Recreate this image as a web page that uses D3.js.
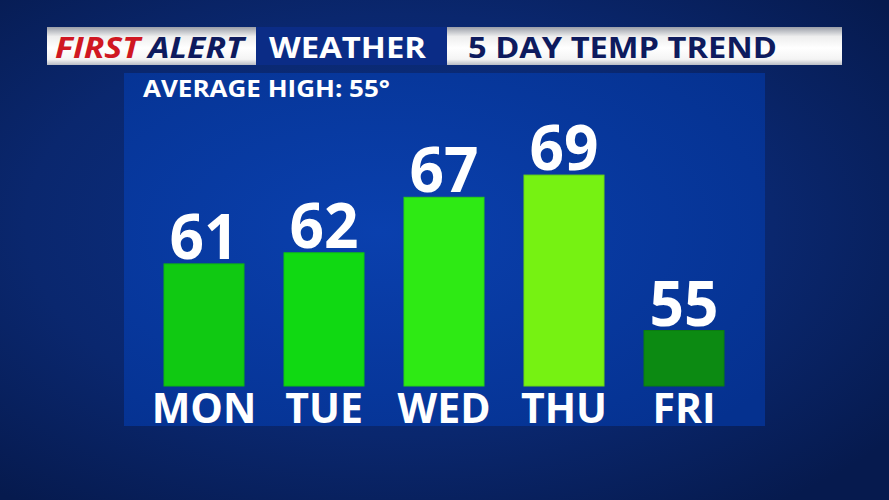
<!DOCTYPE html>
<html><head><meta charset="utf-8">
<script src="https://cdn.jsdelivr.net/npm/d3@7"></script>
<style>html,body{margin:0;padding:0;background:#071f5c;overflow:hidden}svg{display:block}</style>
</head><body>
<script>
const days = ["MON", "TUE", "WED", "THU", "FRI"];
const highs = [61, 62, 67, 69, 55];
const barColors = ["#10c912", "#10d912", "#2eea14", "#76f212", "#0c8a12"];
const averageHigh = 55;
const titleLeft = ["FIRST", "ALERT"];
const titleMid = "WEATHER";
const titleRight = "5 DAY TEMP TREND";

const W = 889, H = 500;
const svg = d3.select("body").append("svg").attr("width", W).attr("height", H);
const defs = svg.append("defs");
const font = "'Open Sans', 'DejaVu Sans', sans-serif";

// background
const bg = defs.append("radialGradient").attr("id", "bg").attr("cx", "45%").attr("cy", "45%").attr("r", "70%");
bg.append("stop").attr("offset", "0%").attr("stop-color", "#0c3288");
bg.append("stop").attr("offset", "60%").attr("stop-color", "#0a276e");
bg.append("stop").attr("offset", "100%").attr("stop-color", "#061a4e");
svg.append("rect").attr("width", W).attr("height", H).attr("fill", "url(#bg)");

// header
const wg = defs.append("linearGradient").attr("id", "wg").attr("x1", 0).attr("x2", 0).attr("y1", 0).attr("y2", 1);
wg.append("stop").attr("offset", "0%").attr("stop-color", "#9a9ea8");
wg.append("stop").attr("offset", "25%").attr("stop-color", "#eeeeee");
wg.append("stop").attr("offset", "55%").attr("stop-color", "#ffffff");
wg.append("stop").attr("offset", "85%").attr("stop-color", "#f4f4f4");
wg.append("stop").attr("offset", "100%").attr("stop-color", "#b8bcc4");
svg.append("rect").attr("x", 47).attr("y", 27).attr("width", 795).attr("height", 38).attr("fill", "url(#wg)");
svg.append("rect").attr("x", 256).attr("y", 27).attr("width", 191).attr("height", 38).attr("fill", "#0b2c86");

const hdrY = 58;
const fa = svg.append("text").attr("x", 55).attr("y", hdrY).attr("font-family", font).attr("font-weight", 700)
  .attr("font-style", "italic").attr("font-size", 29);
fa.append("tspan").attr("fill", "#d01722").text(titleLeft[0]);
fa.append("tspan").attr("fill", "#0e1b5e").attr("dx", 7).text(titleLeft[1]);
fa.attr("textLength", 189).attr("lengthAdjust", "spacingAndGlyphs");
svg.append("text").attr("x", 269).attr("y", hdrY).attr("font-family", font).attr("font-weight", 700)
  .attr("font-size", 29).attr("fill", "#ffffff").attr("textLength", 157).attr("lengthAdjust", "spacingAndGlyphs").text(titleMid);
svg.append("text").attr("x", 468).attr("y", hdrY).attr("font-family", font).attr("font-weight", 700)
  .attr("font-size", 29).attr("fill", "#0e1b5e").attr("textLength", 309).attr("lengthAdjust", "spacingAndGlyphs").text(titleRight);

// panel
const pg = defs.append("radialGradient").attr("id", "pg").attr("cx", "40%").attr("cy", "45%").attr("r", "75%");
pg.append("stop").attr("offset", "0%").attr("stop-color", "#0a40ae");
pg.append("stop").attr("offset", "100%").attr("stop-color", "#05318f");
svg.append("rect").attr("x", 124).attr("y", 73).attr("width", 641).attr("height", 353).attr("fill", "url(#pg)");

svg.append("text").attr("x", 143).attr("y", 97).attr("font-family", font).attr("font-weight", 700)
  .attr("font-size", 23.5).attr("fill", "#ffffff").attr("textLength", 247).attr("lengthAdjust", "spacingAndGlyphs")
  .text(`AVERAGE HIGH: ${averageHigh}°`);

// scales
const x = d3.scaleBand().domain(days).range([144, 744]).paddingInner(1/3).paddingOuter(1/6);
const y = d3.scaleLinear().domain([50, 70]).range([386, 164]);

const data = days.map((d, i) => ({day: d, v: highs[i], c: barColors[i]}));

svg.selectAll("rect.bar").data(data).join("rect").attr("class", "bar")
  .attr("x", d => x(d.day)).attr("y", d => y(d.v))
  .attr("width", x.bandwidth()).attr("height", d => y(50) - y(d.v))
  .attr("fill", d => d.c).attr("stroke", d => d3.color(d.c).darker(0.3)).attr("stroke-width", 1);

svg.selectAll("text.val").data(data).join("text").attr("class", "val")
  .attr("x", d => x(d.day) + x.bandwidth() / 2).attr("y", d => y(d.v) - 5)
  .attr("text-anchor", "middle").attr("font-family", font).attr("font-weight", 700)
  .attr("font-size", 63).attr("fill", "#ffffff").attr("textLength", 69).attr("lengthAdjust", "spacingAndGlyphs")
  .text(d => d.v);

// x axis labels via axis
const ax = svg.append("g").attr("transform", "translate(0,386)")
  .call(d3.axisBottom(x).tickSize(0).tickPadding(37));
ax.select(".domain").remove();
ax.selectAll("text").attr("font-family", font).attr("font-weight", 700).attr("font-size", 41)
  .attr("fill", "#ffffff").attr("dy", 0);
</script>
</body></html>
